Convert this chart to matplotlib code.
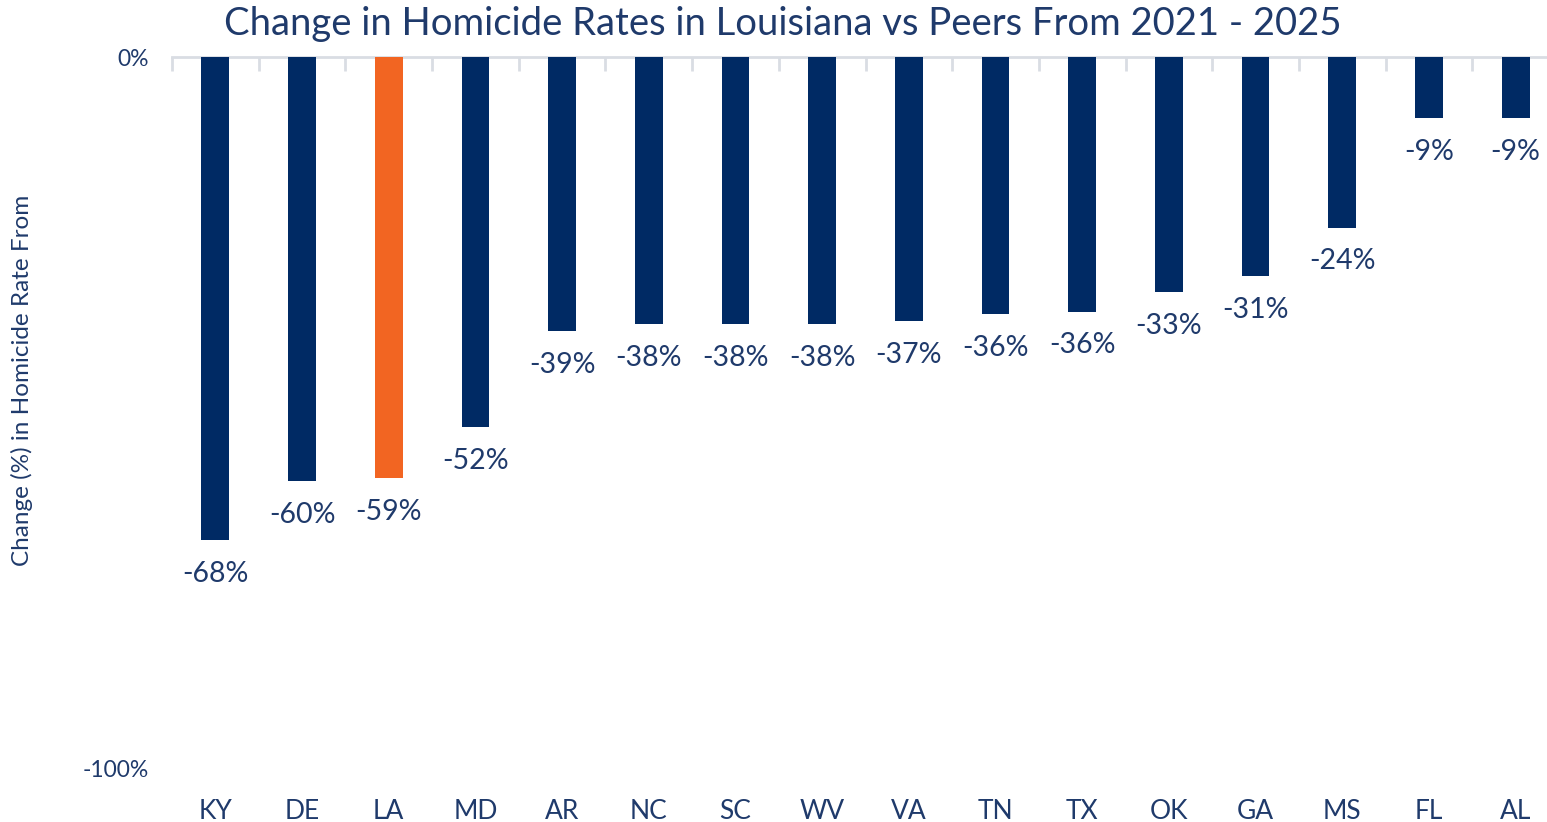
import numpy as np
import matplotlib
matplotlib.use("Agg")
import matplotlib.pyplot as plt

plt.rcParams['font.family'] = ['Lato', 'DejaVu Sans']

# data (percent change 2021 -> 2025)
states = ['KY', 'DE', 'LA', 'MD', 'AR', 'NC', 'SC', 'WV', 'VA', 'TN', 'TX', 'OK', 'GA', 'MS', 'FL', 'AL']
change = [-68, -59.6, -59.2, -52.1, -38.6, -37.6, -37.6, -37.6, -37.2, -36.1, -35.8, -33.1, -30.8, -24, -8.6, -8.6]
highlight = 'LA'

navy = '#002A64'
orange = '#F26522'
text_col = '#1F3A6B'
grid_col = '#D9DDE3'

W, H = 1547, 822
fig = plt.figure(figsize=(W / 100, H / 100), dpi=100)
ax = fig.add_axes([172 / W, 1 - 768 / H, (1559 - 172) / W, (768 - 57) / H])

x = np.arange(len(states))
colors = [orange if s == highlight else navy for s in states]
ax.bar(x, change, width=0.32, color=colors, zorder=3)

for xi, v in zip(x, change):
    ax.annotate(f"{round(v):d}%", (xi, v), xytext=(0, -15), textcoords='offset points',
                ha='center', va='top', fontsize=20.5, color=text_col)

ax.set_xlim(-0.5, len(states) - 0.5)
ax.set_ylim(-100, 0)
ax.set_yticks([-100, 0])
ax.set_yticklabels(['-100%', '0%'])
ax.set_xticks(x)
ax.set_xticklabels(states)
ax.tick_params(axis='x', length=0, pad=22, labelsize=19, labelcolor=text_col)
ax.tick_params(axis='y', length=0, pad=17, labelsize=16.5, labelcolor=text_col)

for side in ['left', 'right', 'bottom']:
    ax.spines[side].set_visible(False)
ax.spines['top'].set_color(grid_col)
ax.spines['top'].set_linewidth(2)

# category separator ticks on the zero line
sec = ax.secondary_xaxis('top')
sec.set_xticks(np.arange(-0.5, len(states), 1))
sec.set_xticklabels([])
sec.tick_params(direction='in', length=10, width=2, color=grid_col)
sec.spines['top'].set_visible(False)

fig.text(783 / W, 1 - 24 / H, 'Change in Homicide Rates in Louisiana vs Peers From 2021 - 2025',
         ha='center', va='center', fontsize=27.5, color=text_col)
fig.text(22 / W, 1 - 380 / H, 'Change (%) in Homicide Rate From', rotation=90,
         ha='center', va='center', fontsize=17.5, color=text_col)

fig.savefig('out.png', dpi=100)
